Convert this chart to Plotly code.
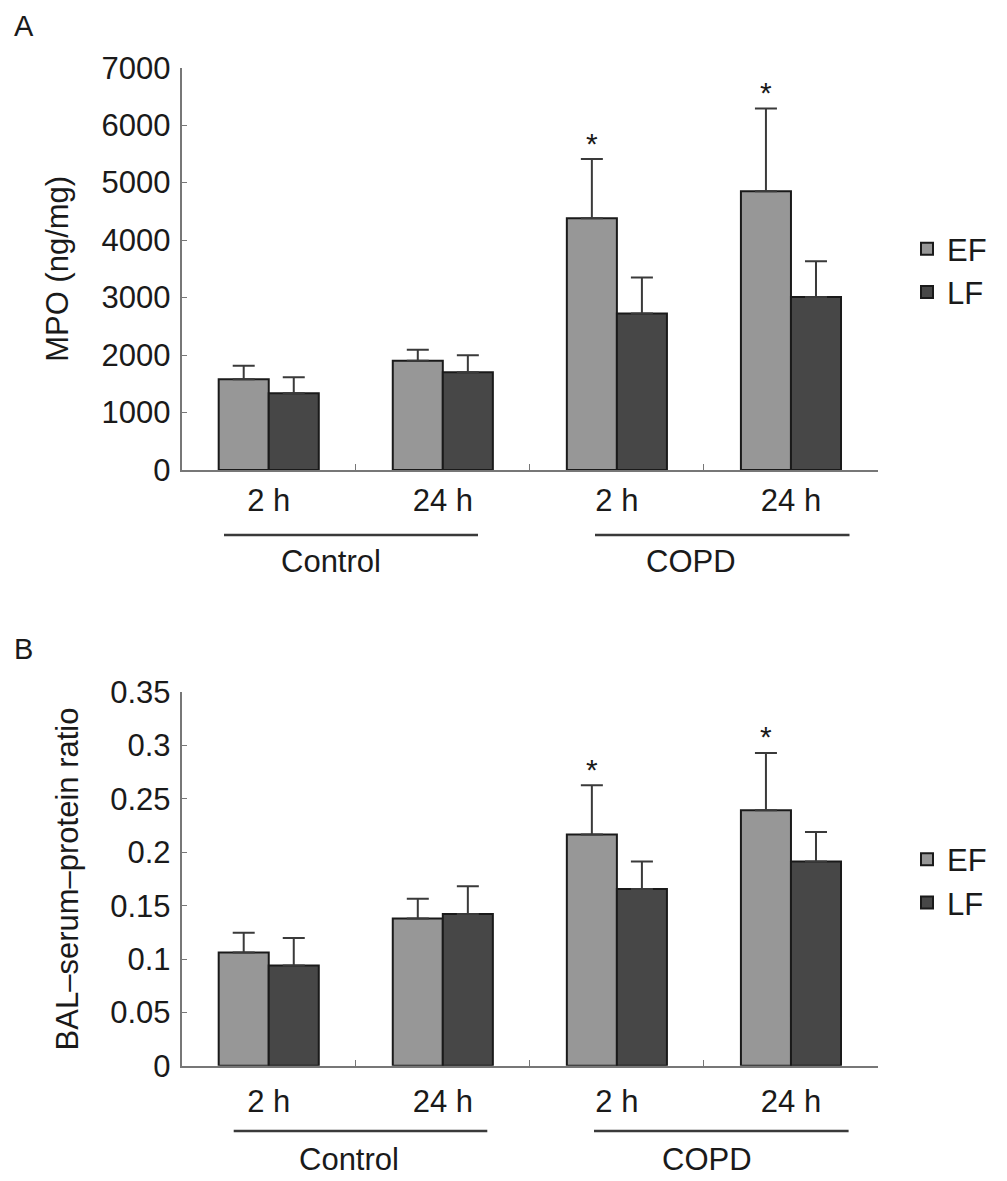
import plotly.graph_objects as go

# categories on the x axis (group + time point)
groups = ["Control", "Control", "COPD", "COPD"]
times = ["2 h", "24 h", "2 h", "24 h"]
series_names = ["EF", "LF"]

# panel A: MPO (ng/mg), mean and upper SD
mpo_ef = [1580, 1900, 4380, 4850]
mpo_ef_sd = [232, 192, 1030, 1440]
mpo_lf = [1335, 1700, 2725, 3010]
mpo_lf_sd = [280, 295, 625, 622]

# panel B: BAL-serum-protein ratio, mean and upper SD
bal_ef = [0.106, 0.138, 0.2166, 0.2394]
bal_ef_sd = [0.0186, 0.0186, 0.0462, 0.0538]
bal_lf = [0.094, 0.1423, 0.1657, 0.1913]
bal_lf_sd = [0.0256, 0.026, 0.0256, 0.0278]

# significance marks on the EF bars
mpo_sig = [False, False, True, True]
bal_sig = [False, False, True, True]

FONT = "Liberation Sans, Arial, sans-serif"
COLORS = {"EF": "#979797", "LF": "#474747"}
W, H = 1007, 1181
OFF = 8  # page body margin in the browser


def px(v):
    return (v - OFF) / W


def py(v):
    return 1 - (v - OFF) / H


cats = [f"{g} {t}" for g, t in zip(groups, times)]

fig = go.Figure()


def add_bars(xaxis, yaxis, legend, ef, ef_sd, lf, lf_sd):
    for name, vals, sd in [("EF", ef, ef_sd), ("LF", lf, lf_sd)]:
        fig.add_trace(go.Bar(
            x=cats, y=vals, name=name,
            xaxis=xaxis, yaxis=yaxis, legend=legend,
            marker=dict(color=COLORS[name], line=dict(color="#1a1a1a", width=2)),
            error_y=dict(type="data", symmetric=False, array=sd,
                         arrayminus=[0] * len(sd),
                         color="#3a3a3a", thickness=2, width=11),
        ))


add_bars("x", "y", "legend", mpo_ef, mpo_ef_sd, mpo_lf, mpo_lf_sd)
add_bars("x2", "y2", "legend2", bal_ef, bal_ef_sd, bal_lf, bal_lf_sd)

xdom = [px(181.7), px(878)]


def xaxis_style(standoff):
    return dict(
        type="category", categoryorder="array", categoryarray=cats,
        tickmode="array", tickvals=cats, ticktext=times,
        ticks="inside", tickson="boundaries", ticklen=6, tickcolor="#777777",
        showline=True, linecolor="#777777", linewidth=2,
        showgrid=False, zeroline=False,
        tickfont=dict(family=FONT, size=31, color="#1a1a1a"),
        ticklabelstandoff=standoff, domain=xdom,
    )


yaxis_style = dict(
    showline=True, linecolor="#777777", linewidth=2,
    ticks="inside", ticklen=5, tickcolor="#777777",
    showgrid=False, zeroline=False,
    tickfont=dict(family=FONT, size=31, color="#1a1a1a"),
    ticklabelstandoff=3,
)

legend_style = dict(xanchor="left", yanchor="middle",
                    font=dict(family=FONT, size=31), bgcolor="rgba(0,0,0,0)",
                    itemwidth=30, tracegroupgap=0)

fig.update_layout(
    width=W, height=H,
    margin=dict(l=0, r=0, t=0, b=0, autoexpand=False),
    paper_bgcolor="white", plot_bgcolor="white",
    barmode="group", bargap=0.425, bargroupgap=0,
    font=dict(family=FONT, size=31, color="#1a1a1a"),
    xaxis=dict(**xaxis_style(2), anchor="y"),
    xaxis2=dict(**xaxis_style(7), anchor="y2"),
    yaxis=dict(**yaxis_style, anchor="x",
               domain=[py(470), py(67.7)],
               range=[0, 7000], dtick=1000,
               title=dict(text="MPO (ng/mg)", standoff=24,
                          font=dict(family=FONT, size=31))),
    yaxis2=dict(**yaxis_style, anchor="x2",
                domain=[py(1065.7), py(692.3)],
                range=[0, 0.35], dtick=0.05,
                title=dict(text="BAL\u2013serum\u2013protein ratio", standoff=22,
                           font=dict(family=FONT, size=31))),
    legend=dict(x=px(907), y=py(270.5), **legend_style),
    legend2=dict(x=px(907), y=py(881), **legend_style),
    showlegend=True,
)

# significance asterisks above EF error bars
for xa, ya, ef, sd, sig in [("x", "y", mpo_ef, mpo_ef_sd, mpo_sig),
                            ("x2", "y2", bal_ef, bal_ef_sd, bal_sig)]:
    for c, v, s, flag in zip(cats, ef, sd, sig):
        if flag:
            fig.add_annotation(x=c, y=v + s, xref=xa, yref=ya, text="*",
                               showarrow=False, xshift=-25, yanchor="middle",
                               yshift=16, font=dict(family=FONT, size=30))

# group underlines and group names below the time labels
group_marks = [
    # (line y px, text y px, line spans px, text centers px)
    (535, 561, [(224, 478), (595, 849.5)], [331, 691]),
    (1131, 1159, [(233.7, 487.3), (594, 848.6)], [348.6, 707]),
]
group_names = ["Control", "COPD"]
for ly, ty, spans, centers in group_marks:
    for (x0, x1), xc, gname in zip(spans, centers, group_names):
        fig.add_shape(type="line", xref="paper", yref="paper",
                      x0=px(x0), x1=px(x1), y0=py(ly), y1=py(ly),
                      line=dict(color="#3a3a3a", width=2.5))
        fig.add_annotation(x=px(xc), y=py(ty), xref="paper", yref="paper",
                           text=gname, showarrow=False, xanchor="center",
                           yanchor="middle", font=dict(family=FONT, size=31))

# panel letters
for letter, ly in [("A", 26), ("B", 649)]:
    fig.add_annotation(x=px(12), y=py(ly), xref="paper", yref="paper",
                       text=letter, showarrow=False, xanchor="left",
                       yanchor="middle", font=dict(family=FONT, size=29))

fig.write_html("out.html")
